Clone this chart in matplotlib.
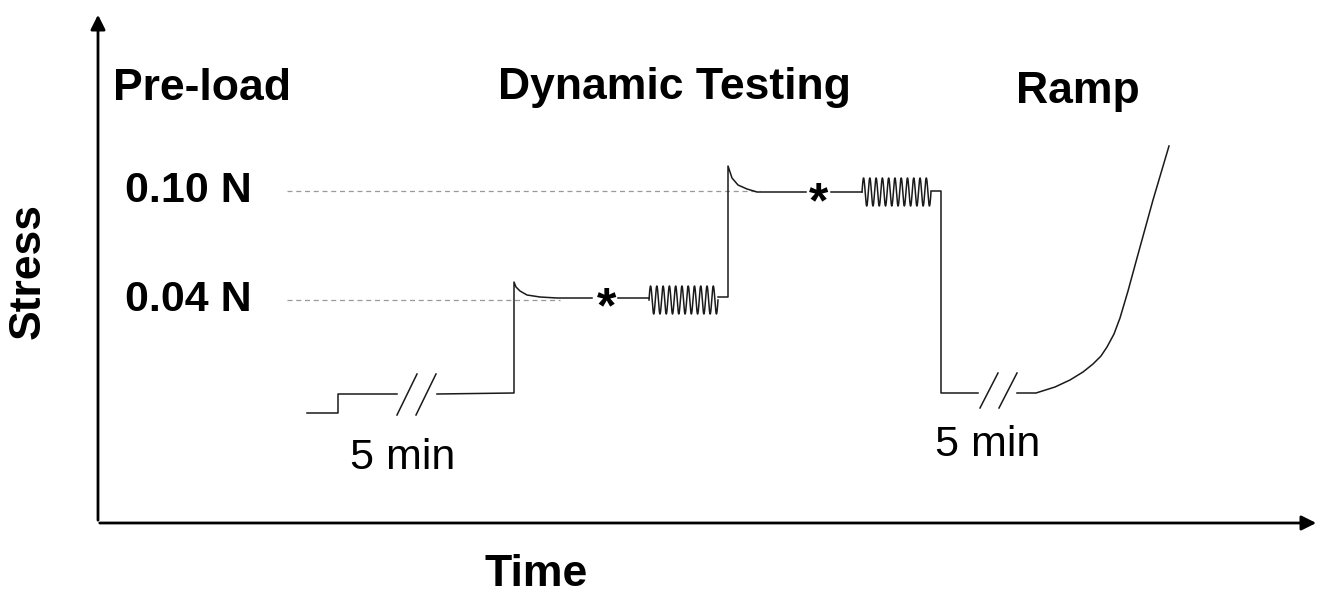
import numpy as np
import matplotlib.pyplot as plt

# schematic trace (pixel-like units, y grows downward)
preload_x = [307, 338, 338, 397]
preload_y = [413, 413, 394, 394]

step1_x = [437, 514, 514, 516, 520, 527, 540, 557, 592]
step1_y = [394, 393, 282, 287, 291, 295, 297, 298, 298]

step2_x = [618, 649]
step2_y = [298, 298]

step3_x = [718, 728, 728, 732, 738, 747, 757, 806]
step3_y = [297, 297, 166, 178, 185, 189, 192, 192]

step4_x = [831, 862]
step4_y = [192, 192]

drop_x = [931, 941, 941, 978]
drop_y = [191, 191, 393, 393]

ramp_x = [1017, 1036, 1055, 1070, 1083, 1093, 1101, 1107, 1114, 1120, 1128, 1137, 1145, 1153, 1161, 1169]
ramp_y = [393, 393, 387, 380, 372, 364, 356, 347, 334, 318, 291, 258, 229, 200, 173, 146]

# oscillation blocks: start, end, centre, amplitude, cycles
osc_start = [649, 862]
osc_end = [718, 931]
osc_mid = [300, 192]
osc_amp = [14, 14]
osc_cycles = [11, 11]

# break marks (//)
break_x0 = [397, 416, 980, 999]
break_x1 = [417, 436, 998, 1017]
break_y0 = [415, 415, 408, 408]
break_y1 = [374, 374, 373, 373]

# reference levels
level_labels = ['0.10 N', '0.04 N']
level_y = [191, 300]
level_end = [760, 560]

star_x = [607, 819]
star_y = [300, 195]

phase_labels = ['Pre-load', 'Dynamic Testing', 'Ramp']
phase_x = [202, 674, 1078]
phase_y = [88, 88, 92]

dur_labels = ['5 min', '5 min']
dur_x = [403, 988]
dur_y = [458, 445]

plt.rcParams['font.family'] = ['Liberation Sans', 'DejaVu Sans']

fig = plt.figure(figsize=(13.27, 5.93), dpi=100)
ax = fig.add_axes([0, 0, 1, 1])
ax.set_xlim(0, 1327)
ax.set_ylim(593, 0)
ax.axis('off')

lc = '#1a1a1a'
lw = 1.1

# axes with arrows
ax.annotate('', xy=(98, 12), xytext=(98, 523),
            arrowprops=dict(arrowstyle='-|>', lw=2, color='black', mutation_scale=22))
ax.annotate('', xy=(1319, 523), xytext=(97, 523),
            arrowprops=dict(arrowstyle='-|>', lw=2, color='black', mutation_scale=22))

# dashed reference lines
for yv, xe in zip(level_y, level_end):
    ax.plot([287, xe], [yv, yv], ls=(0, (4, 3)), color='#999999', lw=0.9, zorder=1)

for xs, ys in [(preload_x, preload_y), (step1_x, step1_y), (step2_x, step2_y),
               (step3_x, step3_y), (step4_x, step4_y), (drop_x, drop_y), (ramp_x, ramp_y)]:
    ax.plot(xs, ys, color=lc, lw=lw, zorder=2)

for s, e, m, a, c in zip(osc_start, osc_end, osc_mid, osc_amp, osc_cycles):
    t = np.linspace(0, 1, 600)
    ax.plot(s + (e - s) * t, m - a * np.sin(2 * np.pi * c * t), color=lc, lw=lw, zorder=2)

for a, b, c, d in zip(break_x0, break_x1, break_y0, break_y1):
    ax.plot([a, b], [c, d], color=lc, lw=lw)

for x, y in zip(star_x, star_y):
    ax.text(x, y + 22, '*', fontsize=36, fontweight='bold', ha='center', va='baseline')

for lab, yv in zip(level_labels, level_y):
    ax.text(188, yv, lab, fontsize=31, fontweight='bold', ha='center', va='center')

for lab, x, y in zip(phase_labels, phase_x, phase_y):
    ax.text(x, y, lab, fontsize=32, fontweight='bold', ha='center', va='center')

for lab, x, y in zip(dur_labels, dur_x, dur_y):
    ax.text(x, y, lab, fontsize=31, ha='center', va='center')

ax.text(28, 271, 'Stress', fontsize=32, fontweight='bold', rotation=90, ha='center', va='center')
ax.text(536, 574, 'Time', fontsize=32, fontweight='bold', ha='center', va='center')

fig.savefig('out.png', dpi=100)
